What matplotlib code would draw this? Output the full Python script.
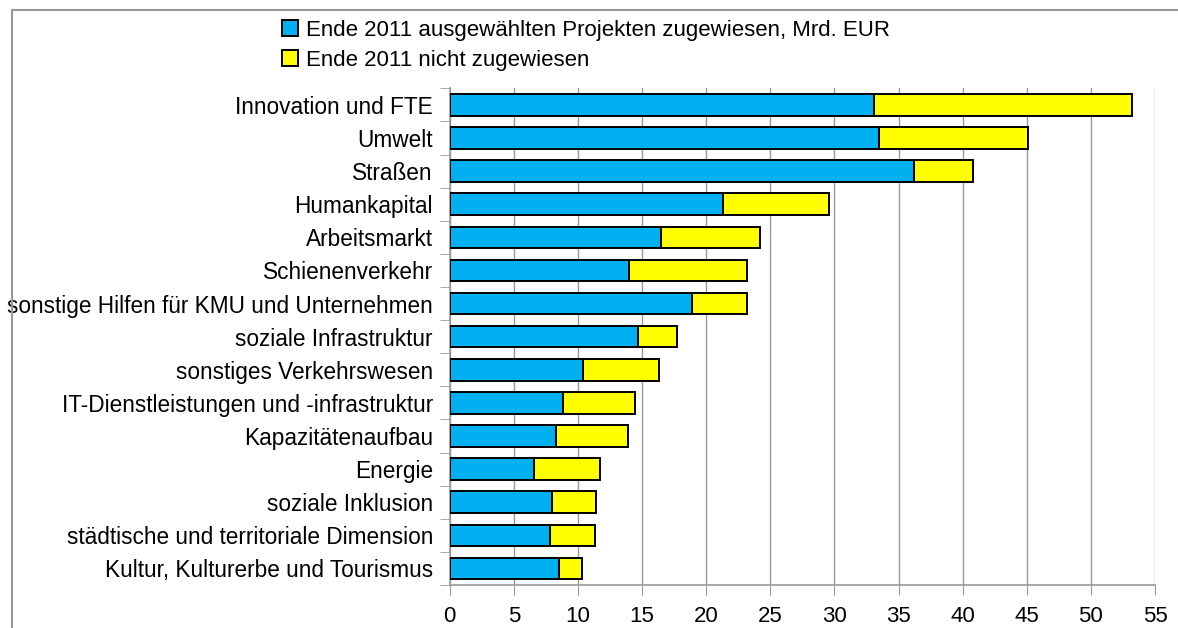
import matplotlib
matplotlib.use("Agg")
import matplotlib.pyplot as plt
from matplotlib.patches import Rectangle

plt.rcParams['font.family'] = ['Liberation Sans', 'DejaVu Sans']

categories = [
    'Innovation und FTE',
    'Umwelt',
    'Straßen',
    'Humankapital',
    'Arbeitsmarkt',
    'Schienenverkehr',
    'sonstige Hilfen für KMU und Unternehmen',
    'soziale Infrastruktur',
    'sonstiges Verkehrswesen',
    'IT-Dienstleistungen und -infrastruktur',
    'Kapazitätenaufbau',
    'Energie',
    'soziale Inklusion',
    'städtische und territoriale Dimension',
    'Kultur, Kulturerbe und Tourismus',
]
zugewiesen = [33.1, 33.5, 36.2, 21.3, 16.5, 14.0, 18.9, 14.7, 10.4, 8.85, 8.3, 6.6, 8.0, 7.85, 8.55]
gesamt = [53.2, 45.1, 40.8, 29.6, 24.2, 23.2, 23.2, 17.7, 16.3, 14.45, 13.9, 11.7, 11.45, 11.3, 10.3]
nicht_zugewiesen = [g - z for g, z in zip(gesamt, zugewiesen)]

label_blue = 'Ende 2011 ausgewählten Projekten zugewiesen, Mrd. EUR'
label_yellow = 'Ende 2011 nicht zugewiesen'

fig = plt.figure(figsize=(11.78, 6.28), dpi=100)
ax = fig.add_axes([0.3817, 0.0685, 0.5988, 0.7909])

y = list(range(len(categories)))
ax.barh(y, zugewiesen, height=0.65, color='#00B0F0', edgecolor='black', linewidth=1.4,
        label=label_blue, zorder=3)
ax.barh(y, nicht_zugewiesen, left=zugewiesen, height=0.65, color='#FFFF00',
        edgecolor='black', linewidth=1.4, label=label_yellow, zorder=3)

ax.set_xlim(0, 55)
ax.set_ylim(len(categories) - 0.5, -0.5)
ax.set_xticks(range(0, 56, 5))
ax.set_yticks(y)
ax.set_yticklabels(categories)
ax.tick_params(axis='y', length=0, pad=12, labelsize=16.3)
ax.tick_params(axis='x', length=7, color='#999999', pad=8, labelsize=16)
ax.set_yticks([i - 0.5 for i in range(len(categories) + 1)], minor=True)
ax.tick_params(axis='y', which='minor', length=7, color='#999999')
ax.grid(axis='x', color='#999999', linewidth=1, zorder=0)
for s in ['top', 'right']:
    ax.spines[s].set_visible(False)
for s in ['left', 'bottom']:
    ax.spines[s].set_color('#999999')
    ax.spines[s].set_linewidth(1.2)

fig.legend(loc='upper left', bbox_to_anchor=(0.232, 0.983), frameon=False,
           fontsize=16, handlelength=0.7, handleheight=0.7, handletextpad=0.35,
           labelspacing=0.42, borderaxespad=0)

fig.patches.append(Rectangle((12 / 1178, -0.1), 1.2, 1 - 10 / 628 + 0.1,
                             transform=fig.transFigure, fill=False,
                             edgecolor='#999999', linewidth=1.5))

fig.savefig('out.png', dpi=100)
